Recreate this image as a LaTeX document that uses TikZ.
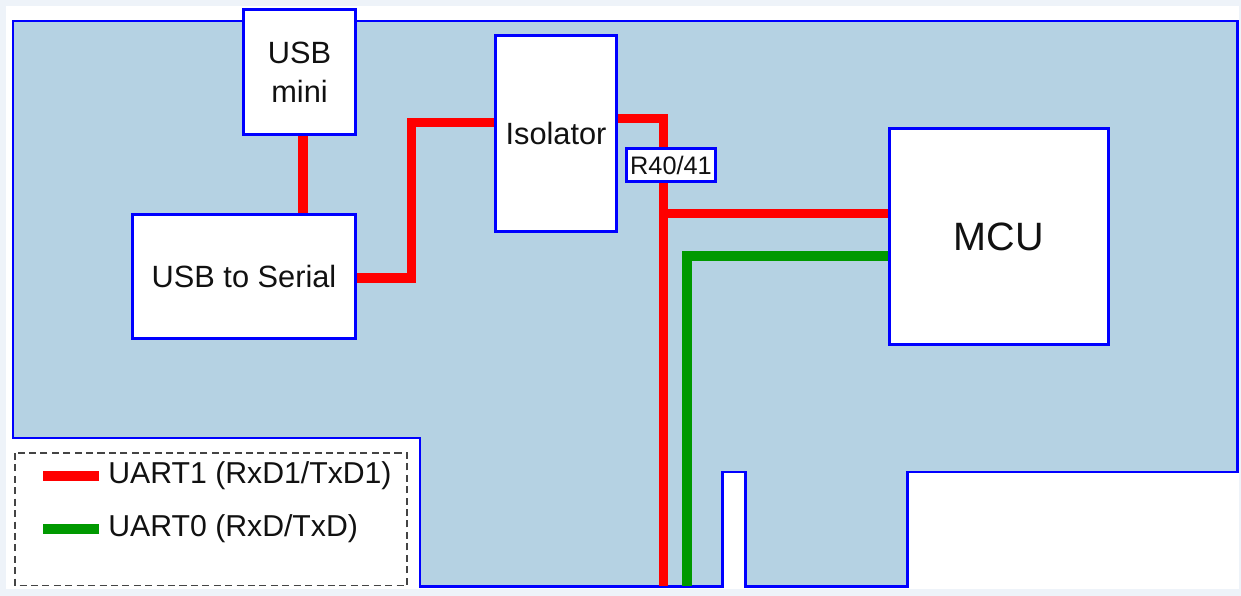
\documentclass[tikz,border=0pt]{standalone}
\usepackage{fontspec}
\setmainfont{Liberation Sans}
\usetikzlibrary{calc,backgrounds}
\definecolor{ink}{HTML}{111111}
\definecolor{frame}{HTML}{EEF3F9}
\definecolor{pcbfill}{HTML}{B5D2E3}
\definecolor{pcbline}{HTML}{0000FF}
\definecolor{uartone}{HTML}{FF0000}
\definecolor{uartzero}{HTML}{009900}
\definecolor{keyline}{HTML}{444444}
\newcommand{\boxsize}{\fontsize{17.5}{22}\selectfont}
\tikzset{
 every node/.append style={font=\boxsize,text=ink,align=center},
 part/.style={draw=pcbline,fill=white,line width=1.8pt,inner sep=2pt},
 board/.style={draw=pcbline,fill=pcbfill,line width=1.7pt},
 uart1/.style={draw=uartone,line width=5.2pt},
 uart0/.style={draw=uartzero,line width=5.2pt},
 keybox/.style={draw=keyline,line width=.9pt,dash pattern=on 4pt off 2.5pt},
 key/.style={anchor=west,inner sep=0pt,font=\fontsize{17.2}{20}\selectfont},
}

\begin{document}
\begin{tikzpicture}
\useasboundingbox (0,0) rectangle (24.82,-11.92);

\node[part,minimum width=22.4mm,minimum height=25mm]
  (usbmini) at (5.99,-1.44) {USB\\mini};
\node[part,minimum width=44.6mm,minimum height=24.8mm]
  (usbserial) at (4.88,-5.53) {USB to Serial};
\node[part,minimum width=24.2mm,minimum height=39.2mm]
  (isolator) at (11.12,-2.67) {Isolator};
\node[part,minimum width=43.8mm,minimum height=43.2mm,font=\fontsize{22.5}{27}\selectfont]
  (mcu) at (19.98,-4.73) {MCU};

\coordinate (r1end) at (13.27,-11.72);
\coordinate (r0end) at (13.74,-11.72);

\begin{scope}[on background layer]
\fill[frame] (0,0) rectangle (24.82,-11.92);
\fill[white] (.12,-.12) rectangle (24.78,-11.78);
% board outline
\draw[board] (.26,-.42) -- (24.74,-.42) -- (24.74,-9.44) -- (18.14,-9.44)
  -- (18.14,-11.72) -- (14.90,-11.72) -- (14.90,-9.44) -- (14.44,-9.44)
  -- (14.44,-11.72) -- (8.40,-11.72) -- (8.40,-8.76) -- (.26,-8.76) -- cycle;
% serial lines
\draw[uart1] ([xshift=.07cm]usbmini.south) -- ([xshift=.07cm]usbmini.south |- usbserial.north);
\draw[uart1] ([yshift=-.03cm]usbserial.east) -| ([xshift=-1.65cm,yshift=.22cm]isolator.west)
  -- ([yshift=.22cm]isolator.west);
\draw[uart1] ([yshift=.30cm]isolator.east) -| (r1end);
\draw[uart1] ([yshift=.46cm]mcu.west) -- ([yshift=.46cm]mcu.west -| r1end);
\draw[uart0] ([yshift=-.39cm]mcu.west) -| (r0end);
\end{scope}

\node[part,minimum width=17.8mm,minimum height=6.6mm,inner sep=1pt,line width=1.3pt,
  font=\fontsize{14.4}{17}\selectfont] (resistor) at (13.42,-3.30) {R40/41};

% legend
\draw[keybox] (.30,-9.06) rectangle (8.14,-11.71);
\node[key] (key1) at (2.16,-9.52) {UART1 (RxD1/TxD1)};
\node[key] (key0) at (2.16,-10.58) {UART0 (RxD/TxD)};
\draw[uart1,line width=5.7pt] ([xshift=-.18cm]key1.west) -- ++(-1.12,0);
\draw[uart0,line width=5.7pt] ([xshift=-.18cm]key0.west) -- ++(-1.12,0);
\end{tikzpicture}
\end{document}
